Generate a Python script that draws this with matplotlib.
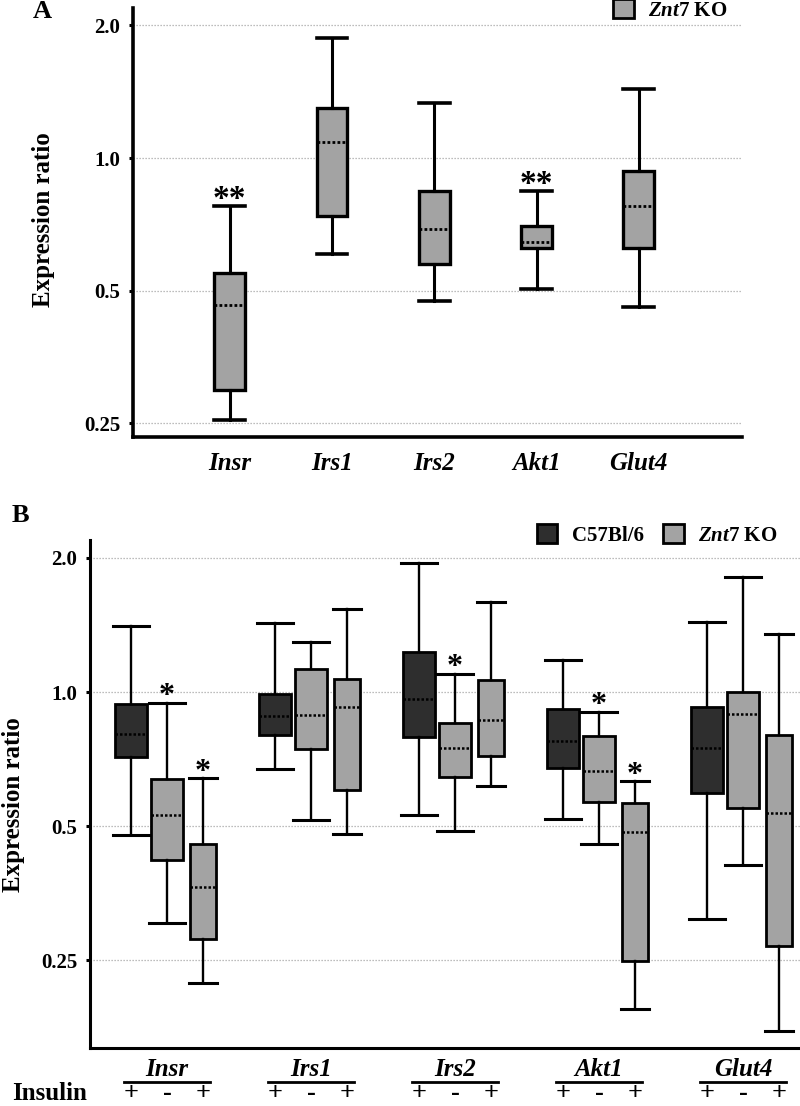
import matplotlib
matplotlib.use("Agg")
import matplotlib.pyplot as plt
from matplotlib.patches import Patch
from matplotlib.lines import Line2D
from matplotlib.transforms import blended_transform_factory

# ── Fonts ─────────────────────────────────────────────────────────────────────
SERIF = "Liberation Serif"
plt.rcParams["font.family"] = SERIF
plt.rcParams["mathtext.fontset"] = "custom"
plt.rcParams["mathtext.it"] = "Liberation Serif:italic:bold"
plt.rcParams["mathtext.rm"] = "Liberation Serif:bold"
plt.rcParams["mathtext.bf"] = "Liberation Serif:bold"

# ── Data ──────────────────────────────────────────────────────────────────────
GENES = ["Insr", "Irs1", "Irs2", "Akt1", "Glut4"]
Y_TICKS = [0.25, 0.5, 1.0, 2.0]
Y_TICK_LABELS = ["0.25", "0.5", "1.0", "2.0"]

# Panel A: Znt7 KO vs control
a_whislo = [0.255, 0.606, 0.474, 0.504, 0.459]
a_q1     = [0.298, 0.739, 0.575, 0.625, 0.625]
a_med    = [0.464, 1.09, 0.690, 0.645, 0.778]
a_q3     = [0.548, 1.30, 0.841, 0.701, 0.934]
a_whishi = [0.778, 1.87, 1.33, 0.841, 1.434]
a_stars  = ["**", "", "", "**", ""]

# Panel B: per gene -> (C57Bl/6 +ins, Znt7 KO -ins, Znt7 KO +ins)
b_whislo = [[0.477, 0.303, 0.223], [0.671, 0.516, 0.480], [0.529, 0.487, 0.615],
            [0.518, 0.456, 0.195], [0.309, 0.409, 0.174]]
b_q1     = [[0.714, 0.419, 0.280], [0.800, 0.745, 0.602], [0.792, 0.644, 0.718],
            [0.675, 0.566, 0.249], [0.593, 0.549, 0.270]]
b_med    = [[0.805, 0.529, 0.366], [0.883, 0.888, 0.925], [0.964, 0.749, 0.865],
            [0.776, 0.664, 0.485], [0.749, 0.892, 0.535]]
b_q3     = [[0.940, 0.638, 0.456], [0.990, 1.126, 1.070], [1.230, 0.852, 1.064],
            [0.916, 0.797, 0.563], [0.925, 1.000, 0.800]]
b_whishi = [[1.410, 0.945, 0.641], [1.430, 1.295, 1.536], [1.950, 1.098, 1.593],
            [1.180, 0.902, 0.631], [1.436, 1.810, 1.350]]
b_stars  = [["", "*", "*"], ["", "", ""], ["", "*", ""], ["", "*", "*"], ["", "", ""]]
INSULIN  = ["+", "-", "+"]

DARK = "#2e2e2e"
GREY = "#a3a3a3"
GRID = "#a8a8a8"


def make_stats(lo, q1, med, q3, hi):
    return [dict(whislo=a, q1=b, med=c, q3=d, whishi=e, fliers=[])
            for a, b, c, d, e in zip(lo, q1, med, q3, hi)]


def style_axis(ax, spine_lw):
    ax.set_yscale("log", base=2)
    ax.set_yticks(Y_TICKS)
    ax.set_yticklabels(Y_TICK_LABELS)
    ax.yaxis.set_minor_locator(matplotlib.ticker.NullLocator())
    ax.yaxis.grid(True, linestyle=(0, (1, 1.4)), color=GRID, linewidth=0.9)
    ax.set_axisbelow(True)
    for s in ("top", "right"):
        ax.spines[s].set_visible(False)
    for s in ("left", "bottom"):
        ax.spines[s].set_linewidth(spine_lw)
    ax.tick_params(axis="y", length=3, width=2.2, pad=6, labelsize=15)
    for lab in ax.get_yticklabels():
        lab.set_fontweight("bold")


fig = plt.figure(figsize=(8, 11.06), dpi=100)

# ── Panel A ───────────────────────────────────────────────────────────────────
axA = fig.add_axes([0.166, 0.6049, 0.7612, 0.3879])
posA = list(range(len(GENES)))
axA.bxp(make_stats(a_whislo, a_q1, a_med, a_q3, a_whishi),
        positions=posA, widths=0.30, capwidths=0.30,
        patch_artist=True, showfliers=False, manage_ticks=False,
        boxprops=dict(facecolor=GREY, edgecolor="black", linewidth=2.4),
        whiskerprops=dict(color="black", linewidth=2.2),
        capprops=dict(color="black", linewidth=2.6),
        medianprops=dict(color="black", linewidth=2.0, linestyle=(0, (1, 0.8))))
style_axis(axA, 2.6)
axA.set_xlim(-0.949, 5.007)
axA.set_ylim(0.233, 2.19)
axA.set_xticks(posA)
axA.set_xticklabels(GENES, fontstyle="italic", fontweight="bold", fontsize=18)
axA.tick_params(axis="x", length=0, pad=11)
for p, hi, st in zip(posA, a_whishi, a_stars):
    if st:
        axA.annotate(st, (p, hi), xytext=(0, -1), textcoords="offset points",
                     ha="center", va="baseline", fontsize=24, fontweight="bold")

fig.text(0.055, 1 - 220 / 1106, "Expression ratio", rotation=90,
         ha="center", va="center", fontsize=18, fontweight="bold")
fig.text(0.041, 1 - 12 / 1106, "A", ha="left", va="center",
         fontsize=19, fontweight="bold")

fig.legend(handles=[Patch(facecolor=GREY, edgecolor="black", linewidth=2)],
           labels=[r"$\mathit{Znt7}$ KO"], loc="center right",
           bbox_to_anchor=(0.9225, 1 - 10 / 1106), frameon=False, borderpad=0,
           handlelength=1.0, handleheight=1.0, handletextpad=0.7,
           prop=dict(family=SERIF, weight="bold", size=15))

# ── Panel B ───────────────────────────────────────────────────────────────────
axB = fig.add_axes([0.1125, 0.0524, 0.8875, 0.4594])
offsets = [-0.25, 0.0, 0.25]
widths = [0.222, 0.222, 0.18]
colors = [DARK, GREY, GREY]
for k in range(3):
    pos = [g + offsets[k] for g in range(len(GENES))]
    col = lambda arr: [row[k] for row in arr]
    axB.bxp(make_stats(col(b_whislo), col(b_q1), col(b_med), col(b_q3), col(b_whishi)),
            positions=pos, widths=widths[k], capwidths=widths[k] * 1.1,
            patch_artist=True, showfliers=False, manage_ticks=False,
            boxprops=dict(facecolor=colors[k], edgecolor="black", linewidth=2.0),
            whiskerprops=dict(color="black", linewidth=1.7),
            capprops=dict(color="black", linewidth=2.2),
            medianprops=dict(color="black", linewidth=1.8, linestyle=(0, (1, 0.8))))
    for g, p in enumerate(pos):
        if b_stars[g][k]:
            axB.annotate(b_stars[g][k], (p, b_whishi[g][k]), xytext=(0, -1),
                         textcoords="offset points", ha="center", va="baseline",
                         fontsize=23, fontweight="bold")
style_axis(axB, 2.2)
axB.set_xlim(-0.535, 4.396)
axB.set_ylim(0.159, 2.195)
axB.set_xticks([])

trB = blended_transform_factory(axB.transData, fig.transFigure)
for g, name in enumerate(GENES):
    axB.text(g, 1 - 1070 / 1106, name, transform=trB, ha="center", va="center",
             fontsize=18, fontstyle="italic", fontweight="bold", clip_on=False)
    axB.add_line(Line2D([g - 0.3, g + 0.3], [1 - 1082 / 1106] * 2, transform=trB,
                        color="black", linewidth=2.0, clip_on=False))
    for k, sign in enumerate(INSULIN):
        axB.text(g + offsets[k], 1 - 1105 / 1106, sign, transform=trB,
                 ha="center", va="bottom", fontsize=19, fontweight="bold",
                 clip_on=False)
fig.text(0.0625, 1 - 1105 / 1106, "Insulin", ha="center", va="bottom",
         fontsize=18, fontweight="bold")

fig.text(0.015, 1 - 516 / 1106, "B", ha="left", va="center",
         fontsize=19, fontweight="bold")
fig.text(0.017, 1 - 805 / 1106, "Expression ratio", rotation=90,
         ha="center", va="center", fontsize=18, fontweight="bold")

fig.legend(handles=[Patch(facecolor=DARK, edgecolor="black", linewidth=2),
                    Patch(facecolor=GREY, edgecolor="black", linewidth=2)],
           labels=["C57Bl/6", r"$\mathit{Znt7}$ KO"], loc="center right",
           bbox_to_anchor=(0.985, 1 - 535 / 1106), frameon=False, borderpad=0,
           ncol=2, handlelength=1.0, handleheight=1.0, handletextpad=0.7,
           columnspacing=0.9, prop=dict(family=SERIF, weight="bold", size=15))

fig.savefig("out.png", dpi=100, facecolor="white")
